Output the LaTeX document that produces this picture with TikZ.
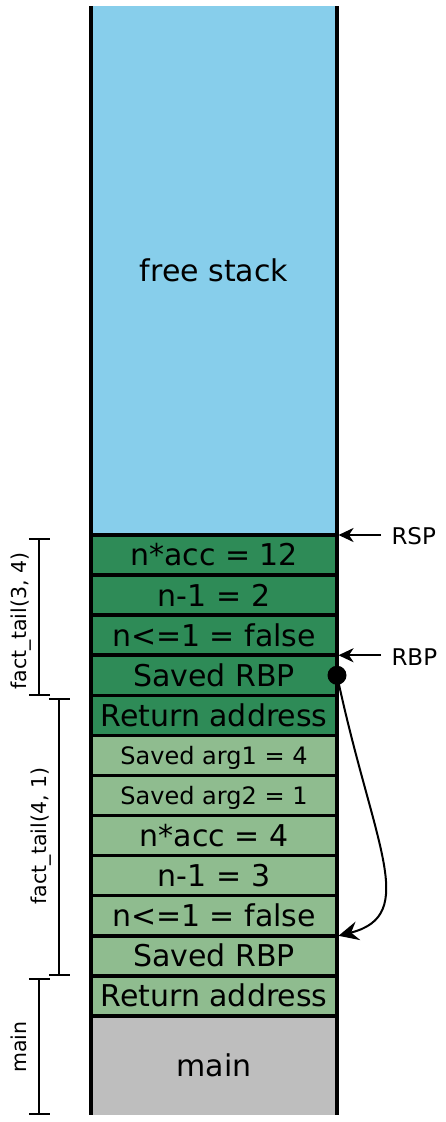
\documentclass[tikz,border=0pt]{standalone}
\usepackage{fontspec}
\setmainfont{DejaVu Sans}
\usetikzlibrary{arrows.meta}
\definecolor{freeblue}{HTML}{87CEEB}
\definecolor{darkfr}{HTML}{2E8B57}
\definecolor{lightfr}{HTML}{8FBC8F}
\definecolor{mainfr}{HTML}{BEBEBE}
\begin{document}
\begin{tikzpicture}[x=1pt,y=-1pt,
  cell/.style={rectangle, inner sep=0pt, outer sep=0pt, minimum width=246pt, minimum height=40.08pt,
    anchor=north west, font=\fontsize{30}{36}\selectfont, text height=21.9pt, text depth=0pt},
  smallcell/.style={cell, font=\fontsize{24}{29}\selectfont, text height=17.5pt},
  dark/.style={fill=darkfr},
  light/.style={fill=lightfr},
  sep/.style={line width=3.5pt, line cap=butt},
  ptr/.style={line width=2.5pt, -{Stealth[length=15pt,width=14pt,inset=4.5pt]}},
  curvedptr/.style={line width=2pt, -{Stealth[length=20pt,width=19pt,inset=7pt]}},
  reglabel/.style={inner xsep=10.5pt, inner ysep=0pt, outer sep=0pt, anchor=base west,
    font=\fontsize{23}{28}\selectfont, text height=16.8pt, text depth=0pt},
  brk/.style={line width=2pt, {Bar[width=21pt]}-{Bar[width=21pt]}},
  brklabel/.style={rotate=90, anchor=base, inner sep=0pt, font=\fontsize{20.5}{25}\selectfont}
]
\useasboundingbox (0,0) rectangle (446,1122);

% stack cells
\node[cell, fill=freeblue, minimum height=529pt] (r0) at (91,6) {free stack};
\node[cell, dark] (r1) at (r0.south west) {n*acc = 12};
\node[cell, dark] (r2) at (r1.south west) {n-1 = 2};
\node[cell, dark] (r3) at (r2.south west) {n<=1 = false};
\node[cell, dark] (r4) at (r3.south west) {Saved RBP};
\node[cell, dark] (r5) at (r4.south west) {Return address};
\node[smallcell, light] (r6) at (r5.south west) {Saved arg1 = 4};
\node[smallcell, light] (r7) at (r6.south west) {Saved arg2 = 1};
\node[cell, light] (r8) at (r7.south west) {n*acc = 4};
\node[cell, light] (r9) at (r8.south west) {n-1 = 3};
\node[cell, light] (r10) at (r9.south west) {n<=1 = false};
\node[cell, light] (r11) at (r10.south west) {Saved RBP};
\node[cell, light] (r12) at (r11.south west) {Return address};
\node[cell, fill=mainfr, minimum height=99pt] (rm) at (r12.south west) {main};

% separators and walls
\foreach \n in {r0,r1,r2,r3,r4,r5,r6,r7,r8,r9,r10,r11,r12}
  \draw[sep] (\n.south west) -- (\n.south east);
\draw[sep] (r0.north west) -- (rm.south west);
\draw[sep] (r0.north east) -- (rm.south east);

% register pointers
\node[reglabel] (rsp) at (381,544) {RSP};
\node[reglabel] (rbp) at (381,665) {RBP};
\draw[ptr] (rsp.west |- r1.north east) -- ([xshift=1.5pt]r1.north east);
\draw[ptr] (rbp.west |- r4.north east) -- ([xshift=1.5pt]r4.north east);

% saved RBP link
\node[circle, fill=black, minimum size=19pt, inner sep=0pt] (dot) at (r4.east) {};
\coordinate (tgt) at ([xshift=1.5pt]r11.north east);
\draw[curvedptr] (dot.center) .. controls (373,845) and (420,915) .. (tgt);

% frame brackets
\coordinate (b1t) at (39.3,538.3);
\coordinate (b1b) at (39.3,695.7);
\coordinate (b2t) at (59.3,697.7);
\coordinate (b2b) at (59.3,975.7);
\coordinate (b3t) at (39.3,977.7);
\coordinate (b3b) at (39.3,1115);
\draw[brk] (b1t) -- (b1b);
\draw[brk] (b2t) -- (b2b);
\draw[brk] (b3t) -- (b3b);
\node[brklabel] (l1) at (26.5,621) {fact\_tail(3, 4)};
\node[brklabel] (l2) at (46,836) {fact\_tail(4, 1)};
\node[brklabel] (l3) at (26,1047) {main};
\end{tikzpicture}
\end{document}
